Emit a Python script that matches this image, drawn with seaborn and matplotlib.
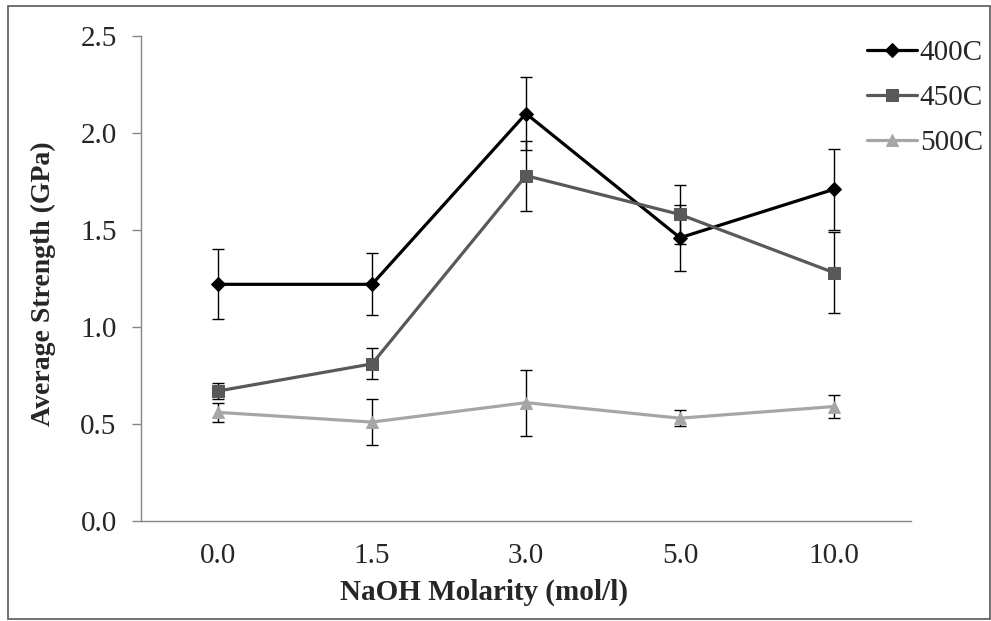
import matplotlib
matplotlib.use("Agg")
import matplotlib.pyplot as plt
from matplotlib.patches import Rectangle
import seaborn as sns
import pandas as pd

# NaOH molarity categories (mol/l) and mean strengths per annealing temperature
molarity = ["0.0", "1.5", "3.0", "5.0", "10.0"]
series_names = ["400C", "450C", "500C"]
strength_400 = [1.22, 1.22, 2.10, 1.46, 1.71]
strength_450 = [0.67, 0.81, 1.78, 1.58, 1.28]
strength_500 = [0.56, 0.51, 0.61, 0.53, 0.59]
err_400 = [0.18, 0.16, 0.19, 0.17, 0.21]
err_450 = [0.04, 0.08, 0.18, 0.15, 0.21]
err_500 = [0.05, 0.12, 0.17, 0.04, 0.06]
y_ticks = [0.0, 0.5, 1.0, 1.5, 2.0, 2.5]

colors = ["#000000", "#595959", "#A6A6A6"]
markers = ["D", "s", "^"]
marker_sizes = [7.5, 8.5, 9]

sns.set_theme(style="white")
plt.rcParams["font.family"] = ["Liberation Serif", "DejaVu Serif"]

FS = 21

fig = plt.figure(figsize=(9.91, 6.21), dpi=100)
ax = fig.add_axes([141 / 991, 1 - 521 / 621, 770 / 991, 485 / 621])

means = [strength_400, strength_450, strength_500]
errs = [err_400, err_450, err_500]
positions = list(range(len(molarity)))

for name, vals, err, c, m, ms in zip(series_names, means, errs, colors, markers, marker_sizes):
    df = pd.DataFrame({"pos": positions, "strength": vals})
    sns.lineplot(data=df, x="pos", y="strength", ax=ax, color=c, lw=2.3,
                 marker=m, markersize=ms, markeredgecolor=c, label=name,
                 zorder=3)
    ax.errorbar(positions, vals, yerr=err, fmt="none", ecolor="black",
                elinewidth=1.0, capsize=4.2, capthick=1.0, zorder=2)

ax.set_xlim(-0.5, 4.5)
ax.set_ylim(0, 2.5)
ax.set_yticks(y_ticks)
ax.set_yticklabels([f"{t:.1f}" for t in y_ticks])
ax.set_xticks(positions)
ax.set_xticklabels(molarity)

spine_color = "#868686"
for side in ["top", "right"]:
    ax.spines[side].set_visible(False)
for side in ["left", "bottom"]:
    ax.spines[side].set_color(spine_color)
    ax.spines[side].set_linewidth(1.0)

ax.tick_params(axis="y", which="major", direction="out", length=6.5, width=1.0,
               color=spine_color, labelsize=FS, pad=11, left=True)
ax.tick_params(axis="x", which="major", length=0, labelsize=FS, pad=15.5)

# axis titles, placed in axes-fraction coordinates
ax.set_xlabel("NaOH Molarity (mol/l)", fontsize=FS, fontweight="bold")
ax.xaxis.set_label_coords((484.5 - 141) / 770, -(600 - 521) / 485)
ax.xaxis.label.set_verticalalignment("baseline")
ax.set_ylabel("Average Strength (GPa)", fontsize=20, fontweight="bold")
ax.yaxis.set_label_coords(-(141 - 43) / 770, (521 - 284) / 485)
ax.yaxis.label.set_verticalalignment("center")

ax.get_legend().remove()
handles, labels = ax.get_legend_handles_labels()
fig.legend(handles, labels, loc="upper left", bbox_to_anchor=(855 / 991, 1 - 28 / 621),
           frameon=False, fontsize=FS, handlelength=1.72, handletextpad=0.1,
           labelspacing=0.64, borderaxespad=0)

# outer frame around the whole chart
fig.patches.append(Rectangle((8 / 991, 1 - 619 / 621), 982 / 991, 613 / 621,
                             transform=fig.transFigure, fill=False,
                             edgecolor="#595959", linewidth=1.2))

fig.savefig("out.png", dpi=100)
